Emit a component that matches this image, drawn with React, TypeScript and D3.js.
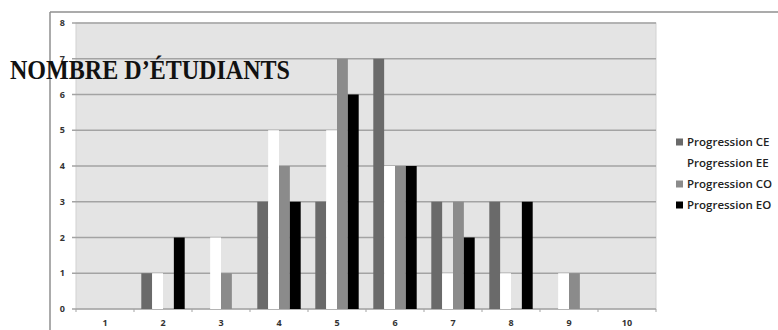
import React from "react";
import * as d3 from "d3";

// Score levels on the horizontal axis
const categories = ["1", "2", "3", "4", "5", "6", "7", "8", "9", "10"];

// Number of students per level, one array per skill progression
const seriesNames = ["Progression CE", "Progression EE", "Progression CO", "Progression EO"];
const progressionCE = [0, 1, 0, 3, 3, 7, 3, 3, 0, 0];
const progressionEE = [0, 1, 2, 5, 5, 4, 1, 1, 1, 0];
const progressionCO = [0, 0, 1, 4, 7, 4, 3, 0, 1, 0];
const progressionEO = [0, 2, 0, 3, 6, 4, 2, 3, 0, 0];

const yTicks = [0, 1, 2, 3, 4, 5, 6, 7, 8];
const title = "NOMBRE D\u2019\u00C9TUDIANTS";

const W = 778;
const H = 330;
const plot = { left: 76, right: 656, top: 23, bottom: 309 };
const colors = ["#6a6a6a", "#ffffff", "#8b8b8b", "#000000"];
const seriesValues = [progressionCE, progressionEE, progressionCO, progressionEO];

export default function App() {
  const x = d3
    .scaleBand<string>()
    .domain(categories)
    .range([plot.left, plot.right])
    .padding(0);
  const step = x.step();
  const gap = 14.6;
  const xInner = d3
    .scaleBand<string>()
    .domain(seriesNames)
    .range([gap / 2, step - gap / 2])
    .padding(0);
  const y = d3.scaleLinear().domain([0, 8]).range([plot.bottom, plot.top]);

  const labelFont = "'Open Sans', 'DejaVu Sans', sans-serif";

  return (
    <svg
      width={W}
      height={H}
      viewBox={`0 0 ${W} ${H}`}
      style={{ position: "absolute", left: 0, top: 0, background: "#fff" }}
    >
      {/* chart frame */}
      <line x1={50} y1={12} x2={W} y2={12} stroke="#8f8f8f" strokeWidth={1.5} />
      <line x1={50} y1={12} x2={50} y2={H} stroke="#8f8f8f" strokeWidth={1.5} />

      {/* plot background */}
      <rect
        x={plot.left}
        y={plot.top}
        width={plot.right - plot.left}
        height={plot.bottom - plot.top}
        fill="#e4e4e4"
        stroke="#d2d2d2"
        strokeWidth={1}
      />

      {/* horizontal gridlines and y tick labels */}
      {yTicks.map((t) => (
        <g key={t}>
          <line
            x1={plot.left - 4}
            x2={plot.right}
            y1={y(t)}
            y2={y(t)}
            stroke="#a3a3a3"
            strokeWidth={1.3}
          />
          <text
            x={65}
            y={y(t)}
            dy="0.35em"
            textAnchor="end"
            fontFamily={labelFont}
            fontWeight={700}
            fontSize={9}
            fill="#333"
          >
            {t}
          </text>
        </g>
      ))}

      {/* category boundary ticks */}
      {categories.concat(["end"]).map((c, i) => {
        const xv = plot.left + i * step;
        return (
          <line
            key={`tick-${i}`}
            x1={xv}
            x2={xv}
            y1={plot.bottom}
            y2={plot.bottom + 3}
            stroke="#a3a3a3"
            strokeWidth={1}
          />
        );
      })}

      {/* bars */}
      {categories.map((c, ci) => (
        <g key={c} transform={`translate(${x(c)},0)`}>
          {seriesNames.map((s, si) => {
            const v = seriesValues[si][ci];
            if (v <= 0) return null;
            return (
              <rect
                key={s}
                x={xInner(s)}
                y={y(v)}
                width={xInner.bandwidth()}
                height={y(0) - y(v)}
                fill={colors[si]}
              />
            );
          })}
        </g>
      ))}

      {/* x tick labels */}
      {categories.map((c) => (
        <text
          key={`xl-${c}`}
          x={(x(c) as number) + step / 2}
          y={323}
          dy="0.35em"
          textAnchor="middle"
          fontFamily={labelFont}
          fontWeight={700}
          fontSize={9}
          fill="#333"
        >
          {c}
        </text>
      ))}

      {/* legend */}
      {seriesNames.map((s, i) => {
        const cy = 142 + i * 21;
        return (
          <g key={`lg-${s}`}>
            <rect x={676} y={cy - 3.5} width={7} height={7} fill={colors[i]} />
            <text
              x={687}
              y={cy}
              dy="0.35em"
              fontFamily={labelFont}
              fontWeight={600}
              fontSize={11.5}
              fill="#222"
            >
              {s}
            </text>
          </g>
        );
      })}

      {/* axis title */}
      <text
        x={10}
        y={79}
        fontFamily="'Liberation Serif', 'Times New Roman', serif"
        fontWeight={700}
        fontSize={27}
        textLength={280}
        lengthAdjust="spacingAndGlyphs"
        fill="#111"
      >
        {title}
      </text>
    </svg>
  );
}
